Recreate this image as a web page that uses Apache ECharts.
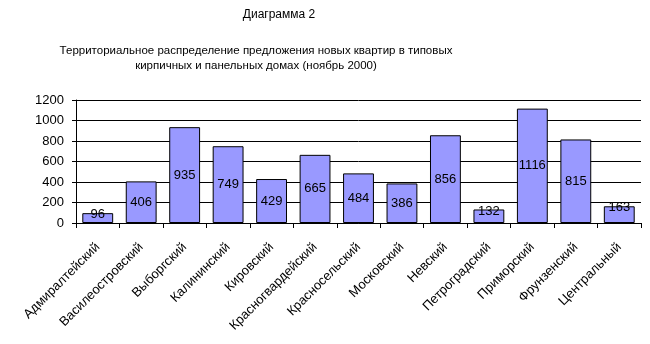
<!DOCTYPE html>
<html><head><meta charset="utf-8">
<script src="https://cdn.jsdelivr.net/npm/echarts@6/dist/echarts.min.js"></script>
<style>html,body{margin:0;padding:0;background:#fff}#c{width:650px;height:344px}</style>
</head><body><div id="c"></div>
<script>
var categories = ['Адмиралтейский','Василеостровский','Выборгский','Калининский','Кировский','Красногвардейский','Красносельский','Московский','Невский','Петроградский','Приморский','Фрунзенский','Центральный'];
var values = [96, 406, 935, 749, 429, 665, 484, 386, 856, 132, 1116, 815, 163];
var yTicks = [0, 200, 400, 600, 800, 1000, 1200];
var titleText = 'Диаграмма 2';
var subtitleText = 'Территориальное распределение предложения новых квартир в типовых\nкирпичных и панельных домах (ноябрь 2000)';

var FONT = 'Liberation Sans, Arial, sans-serif';
var chart = echarts.init(document.getElementById('c'), null, {renderer:'canvas'});
chart.setOption({
  animation: false,
  backgroundColor: '#fff',
  title: [
    {text: titleText, left: 274, top: 4, textAlign: 'center',
     textStyle: {fontFamily: FONT, fontSize: 12, fontWeight: 'normal', color: '#000'}},
    {text: subtitleText, left: 251, top: 38, textAlign: 'center',
     textStyle: {fontFamily: FONT, fontSize: 11.5, fontWeight: 'normal', color: '#000', lineHeight: 15}}
  ],
  grid: {left: 76, right: 9, top: 100, bottom: 121, containLabel: false},
  xAxis: {
    type: 'category', data: categories,
    axisLine: {show: true, lineStyle: {color: '#000', width: 1}},
    axisTick: {show: true, alignWithLabel: false, length: 5, lineStyle: {color: '#000'}},
    axisLabel: {rotate: 45, interval: 0, margin: 22, fontFamily: FONT, fontSize: 13, color: '#000'}
  },
  yAxis: {
    type: 'value', min: yTicks[0], max: yTicks[yTicks.length-1], interval: 200,
    axisLine: {show: true, lineStyle: {color: '#000', width: 1}},
    axisTick: {show: true, length: 4, lineStyle: {color: '#000'}},
    axisLabel: {margin: 12, fontFamily: FONT, fontSize: 13, color: '#000',
      formatter: function(v){ return String(v); }},
    splitLine: {show: true, lineStyle: {color: '#000', width: 1}}
  },
  series: [{
    type: 'bar',
    barCategoryGap: '29%',
    itemStyle: {color: '#9999FF', borderColor: '#000', borderWidth: 1},
    label: {show: true, position: 'inside', fontFamily: FONT, fontSize: 13, color: '#000'},
    data: values.map(function(v){
      return v < 200 ? {value: v, label: {position: 'top', distance: -8}} : v;
    })
  }]
});
</script></body></html>
